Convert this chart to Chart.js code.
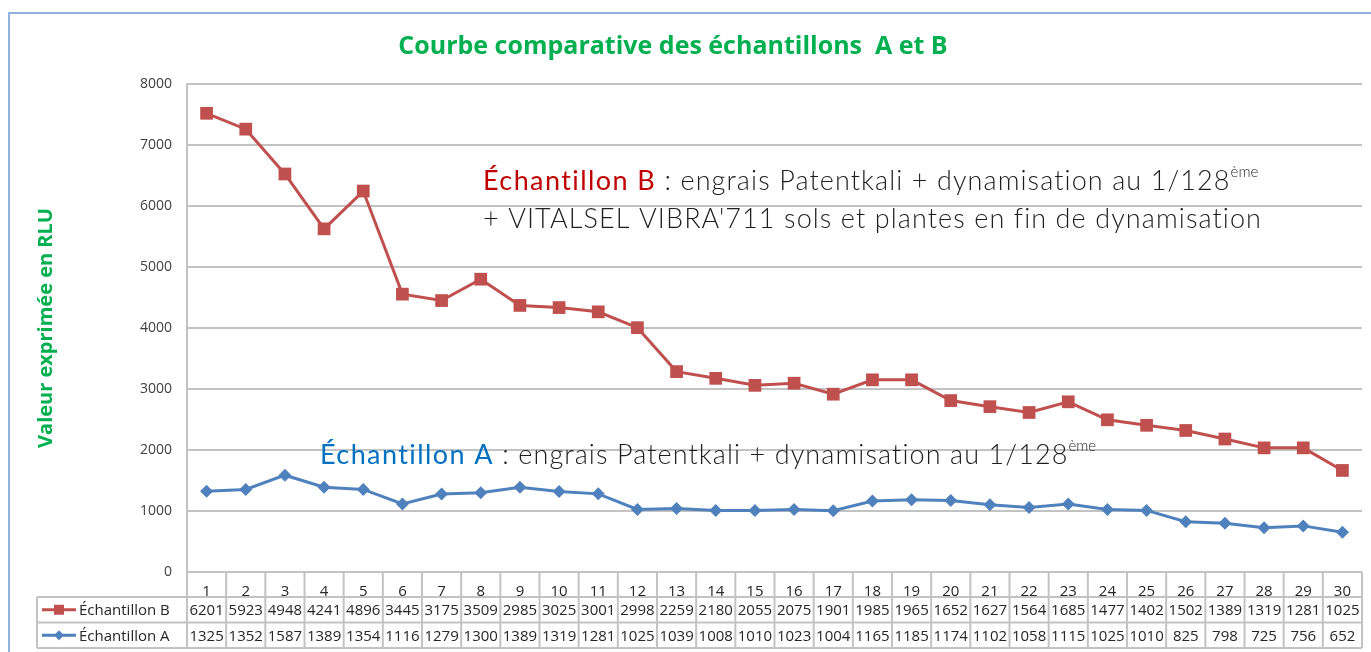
<!DOCTYPE html>
<html lang="fr">
<head>
<meta charset="utf-8">
<title>Courbe comparative des échantillons A et B</title>
<script src="https://cdn.jsdelivr.net/npm/chart.js@4.4.1/dist/chart.umd.min.js"></script>
<style>
  html, body { margin: 0; padding: 0; background: #fff; overflow: hidden; }
  #wrap { position: relative; width: 1371px; height: 652px; }
  #cadre { position: absolute; left: 8px; top: 12px; width: 1400px; height: 700px;
           border: 2px solid #8fb2df; box-sizing: border-box; }
  #graphique { position: absolute; left: 0; top: 0; }
</style>
</head>
<body>
<div id="wrap">
  <div id="cadre"></div>
  <canvas id="graphique" width="1371" height="652"></canvas>
</div>
<script>
(() => {
  "use strict";

  // ---------- données ----------
  const points = ["1","2","3","4","5","6","7","8","9","10","11","12","13","14","15",
                  "16","17","18","19","20","21","22","23","24","25","26","27","28","29","30"];

  // valeurs tracées
  const courbeB = [7520, 7260, 6525, 5625, 6245, 4555, 4450, 4800, 4370, 4335, 4265, 4005,
                   3285, 3175, 3060, 3095, 2915, 3150, 3150, 2810, 2710, 2615, 2790, 2495,
                   2405, 2320, 2180, 2035, 2035, 1665];
  const courbeA = [1325, 1352, 1587, 1389, 1354, 1116, 1279, 1300, 1389, 1319, 1281, 1025,
                   1039, 1008, 1010, 1023, 1004, 1165, 1185, 1174, 1102, 1058, 1115, 1025,
                   1010, 825, 798, 725, 756, 652];

  // valeurs du tableau sous le graphique
  const tableauB = ["6201","5923","4948","4241","4896","3445","3175","3509","2985","3025",
                    "3001","2998","2259","2180","2055","2075","1901","1985","1965","1652",
                    "1627","1564","1685","1477","1402","1502","1389","1319","1281","1025"];
  const tableauA = ["1325","1352","1587","1389","1354","1116","1279","1300","1389","1319",
                    "1281","1025","1039","1008","1010","1023","1004","1165","1185","1174",
                    "1102","1058","1115","1025","1010","825","798","725","756","652"];

  const yMin = 0, yMax = 8000, yPas = 1000;

  const ROUGE = "#c0504d";
  const BLEU = "#4f81bd";
  const VERT = "#00b050";
  const GRILLE = "#c3c3c3";
  const TEXTE = "#262626";

  // ---------- helpers ----------
  function ecrire(ctx, x, y, morceaux) {
    let cx = x;
    for (const m of morceaux) {
      ctx.font = m.font;
      ctx.fillStyle = m.color;
      ctx.letterSpacing = m.sp || "0px";
      ctx.fillText(m.text, cx, y + (m.dy || 0));
      cx += ctx.measureText(m.text).width;
    }
    ctx.letterSpacing = "0px";
  }

  // ---------- plugin : titre, annotations, tableau ----------
  const decor = {
    id: "decor",
    afterDraw(chart) {
      const ctx = chart.ctx;
      const ca = chart.chartArea;
      const x = chart.scales.x;
      ctx.save();

      // titre
      ctx.font = "bold 25px 'Open Sans'";
      ctx.fillStyle = VERT;
      ctx.textAlign = "center";
      ctx.textBaseline = "alphabetic";
      ctx.fillText("Courbe comparative des échantillons  A et B", 673, 54);

      // annotations
      ctx.textAlign = "left";
      const fin = "300 27px Lato";
      const fort = "400 27px Lato";
      const sup = "300 15px Lato";
      const sp = "1.1px";
      const couleur = "#1e1e1e";
      ecrire(ctx, 483, 190, [
        { text: "Échantillon B", color: "#c00000", font: fort, sp: "1.4px" },
        { text: " : engrais Patentkali + dynamisation au 1/128", color: couleur, font: fin, sp },
        { text: "ème", color: couleur, font: sup, dy: -13 }
      ]);
      ecrire(ctx, 483, 228, [
        { text: "+ VITALSEL VIBRA'711 sols et plantes en fin de dynamisation", color: couleur, font: fin, sp }
      ]);
      ecrire(ctx, 320, 464, [
        { text: "Échantillon A", color: "#0070c0", font: fort, sp: "1.4px" },
        { text: " : engrais Patentkali + dynamisation au 1/128", color: couleur, font: fin, sp },
        { text: "ème", color: couleur, font: sup, dy: -13 }
      ]);

      // tableau de données
      const pas = x.getPixelForValue(1) - x.getPixelForValue(0);
      const gauche = x.getPixelForValue(0) - pas / 2;
      const droite = x.getPixelForValue(points.length - 1) + pas / 2;
      const y0 = ca.bottom, y1 = y0 + 25, y2 = y1 + 25.5, y3 = y2 + 25.5;
      const debut = 37;

      ctx.strokeStyle = GRILLE;
      ctx.lineWidth = 2;
      ctx.beginPath();
      ctx.moveTo(gauche, y0); ctx.lineTo(droite, y0);
      for (const yy of [y1, y2, y3]) { ctx.moveTo(debut, yy); ctx.lineTo(droite, yy); }
      for (let i = 0; i <= points.length; i++) {
        const xx = gauche + i * pas;
        ctx.moveTo(xx, y0); ctx.lineTo(xx, y3);
      }
      ctx.moveTo(debut, y1); ctx.lineTo(debut, y3);
      ctx.stroke();

      ctx.font = "15px 'Open Sans'";
      ctx.fillStyle = TEXTE;
      ctx.textAlign = "center";
      ctx.textBaseline = "middle";
      points.forEach((_, i) => {
        const cx = x.getPixelForValue(i);
        ctx.fillText(tableauB[i], cx, (y1 + y2) / 2 + 1);
        ctx.fillText(tableauA[i], cx, (y2 + y3) / 2 + 1);
      });

      // légende dans le tableau
      const legende = [
        { y: (y1 + y2) / 2, couleur: ROUGE, forme: "carre", nom: "Échantillon B" },
        { y: (y2 + y3) / 2, couleur: BLEU, forme: "losange", nom: "Échantillon A" }
      ];
      for (const l of legende) {
        ctx.strokeStyle = l.couleur;
        ctx.fillStyle = l.couleur;
        ctx.lineWidth = 3;
        ctx.beginPath();
        ctx.moveTo(42, l.y); ctx.lineTo(76, l.y);
        ctx.stroke();
        ctx.beginPath();
        if (l.forme === "carre") {
          ctx.rect(54, l.y - 5, 10, 10);
        } else {
          ctx.moveTo(59, l.y - 5); ctx.lineTo(64, l.y); ctx.lineTo(59, l.y + 5); ctx.lineTo(54, l.y);
          ctx.closePath();
        }
        ctx.fill();
        ctx.fillStyle = TEXTE;
        ctx.textAlign = "left";
        ctx.fillText(l.nom, 79, l.y + 1);
      }
      ctx.restore();
    }
  };

  // ---------- graphique ----------
  const canvas = document.getElementById("graphique");
  new Chart(canvas, {
    type: "line",
    data: {
      labels: points,
      datasets: [
        {
          label: "Échantillon B",
          data: courbeB,
          borderColor: ROUGE,
          backgroundColor: ROUGE,
          borderWidth: 3,
          pointStyle: "rect",
          pointRadius: 9,
          pointBorderWidth: 0,
          tension: 0
        },
        {
          label: "Échantillon A",
          data: courbeA,
          borderColor: BLEU,
          backgroundColor: BLEU,
          borderWidth: 3,
          pointStyle: "rectRot",
          pointRadius: 6.5,
          pointBorderWidth: 0,
          tension: 0
        }
      ]
    },
    options: {
      responsive: false,
      animation: false,
      devicePixelRatio: 1,
      layout: { padding: { top: 84, left: 25, right: 8, bottom: 4 } },
      plugins: {
        legend: { display: false },
        title: { display: false },
        tooltip: { enabled: false }
      },
      scales: {
        x: {
          type: "category",
          offset: true,
          grid: { display: false },
          border: { display: false },
          ticks: {
            color: TEXTE,
            font: { family: "'Open Sans'", size: 15 },
            padding: 3,
            autoSkip: false,
            maxRotation: 0
          },
          afterFit: (s) => { s.height = 76; }
        },
        y: {
          min: yMin,
          max: yMax,
          ticks: {
            stepSize: yPas,
            color: "#404040",
            font: { family: "'Open Sans'", size: 14 },
            padding: 15,
            callback: (v) => String(v)
          },
          grid: { color: GRILLE, lineWidth: 2, drawTicks: false },
          border: { display: true, color: GRILLE, width: 2 },
          title: {
            display: true,
            text: "Valeur exprimée en RLU",
            color: VERT,
            font: { family: "'Open Sans'", size: 20, weight: "bold" },
            padding: { top: 9, bottom: 0 }
          },
          afterFit: (s) => { s.width = 162; }
        }
      }
    },
    plugins: [decor]
  });
})();
</script>
</body>
</html>
